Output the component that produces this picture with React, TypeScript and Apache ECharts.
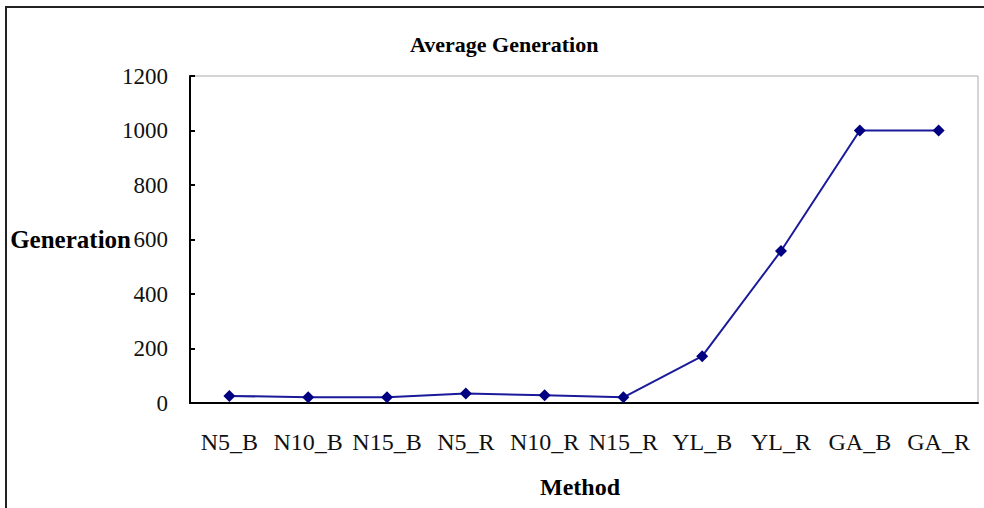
import React, { useEffect, useRef } from "react";
import * as echarts from "echarts";

const categories = ["N5_B", "N10_B", "N15_B", "N5_R", "N10_R", "N15_R", "YL_B", "YL_R", "GA_B", "GA_R"];
const generationValues = [26, 21, 21, 35, 28, 21, 172, 558, 1000, 1000];
const yTicks = [0, 200, 400, 600, 800, 1000, 1200];
const yAxisTitle = "Generation";

const FONT = "'Liberation Serif', 'Times New Roman', serif";

export default function App() {
  const ref = useRef<HTMLDivElement>(null);
  useEffect(() => {
    if (!ref.current) return;
    const chart = echarts.init(ref.current, null, { renderer: "svg" });
    chart.setOption({
      animation: false,
      backgroundColor: "#ffffff",
      title: {
        text: "Average Generation",
        left: 405,
        top: 28,
        textStyle: { fontFamily: FONT, fontWeight: "bold", fontSize: 22, color: "#000" },
      },
      graphic: [
        {
          type: "rect",
          shape: { x: 6, y: 7, width: 1100, height: 600 },
          style: { fill: "none", stroke: "#222", lineWidth: 2 },
          silent: true,
          z: -1,
        },
        {
          type: "text",
          x: 131,
          y: 239,
          style: {
            text: yAxisTitle,
            fontFamily: FONT,
            fontWeight: "bold",
            fontSize: 25,
            fill: "#000",
            align: "right",
            verticalAlign: "middle",
          },
          silent: true,
        },
      ],
      grid: {
        left: 190,
        top: 76,
        right: 6,
        bottom: 105,
        show: true,
        borderColor: "#aaaaaa",
        borderWidth: 1,
        containLabel: false,
        outerBoundsMode: "none",
      },
      xAxis: {
        type: "category",
        data: categories,
        boundaryGap: true,
        name: "Method",
        nameLocation: "middle",
        nameGap: 72,
        nameTextStyle: { fontFamily: FONT, fontWeight: "bold", fontSize: 24, color: "#000", padding: [0, 8, 0, 0] },
        axisLine: { lineStyle: { color: "#000", width: 2 } },
        axisTick: { inside: true, length: 6, lineStyle: { color: "#000", width: 2 } },
        axisLabel: { fontFamily: FONT, fontSize: 24, color: "#111", margin: 27, interval: 0 },
        splitLine: { show: false },
      },
      yAxis: {
        type: "value",
        min: 0,
        max: 1200,
        interval: 200,
        axisLine: { show: true, lineStyle: { color: "#000", width: 2 } },
        axisTick: { show: true, inside: true, length: 5, lineStyle: { color: "#000", width: 2 } },
        axisLabel: {
          fontFamily: FONT,
          fontSize: 23,
          color: "#111",
          margin: 22,
          formatter: (v: number) => (yTicks.includes(v) ? String(v) : ""),
        },
        splitLine: { show: false },
      },
      series: [
        {
          type: "line",
          data: generationValues,
          symbol: "diamond",
          symbolSize: 12,
          itemStyle: { color: "#000080" },
          lineStyle: { color: "#1a1a9a", width: 2 },
        },
      ],
    });
    return () => chart.dispose();
  }, []);
  return <div ref={ref} style={{ width: 984, height: 508, position: "absolute", left: 0, top: 0 }} />;
}
